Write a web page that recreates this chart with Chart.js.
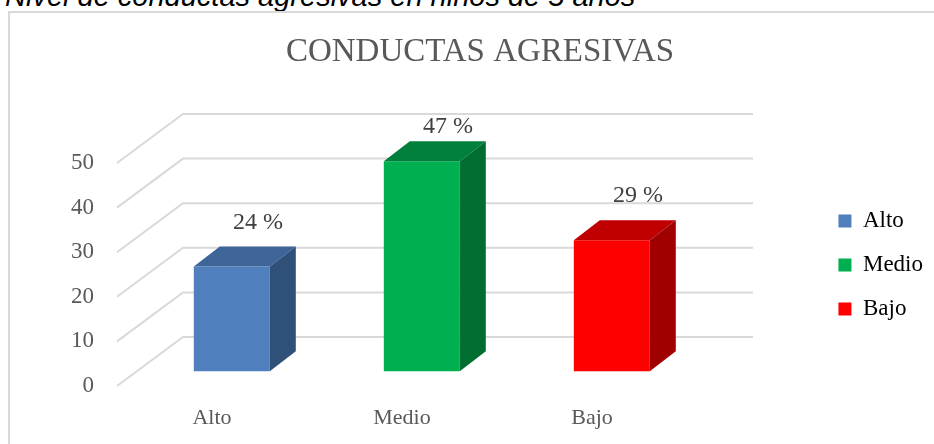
<!DOCTYPE html>
<html>
<head>
<meta charset="utf-8">
<script src="https://cdn.jsdelivr.net/npm/chart.js@4.4.0/dist/chart.umd.min.js"></script>
<style>
  body { margin: 0; background: #fff; overflow: hidden; }
  #wrap { position: relative; width: 934px; height: 444px; overflow: hidden; }
  #caption { position: absolute; left: 5px; top: -21px; font: italic 29px 'Liberation Sans', Arial, sans-serif; line-height: 34px; color: #000; white-space: nowrap; }
  #frame { position: absolute; left: 8px; top: 11px; width: 1000px; height: 500px; border-left: 2px solid #d9d9d9; border-top: 2px solid #d9d9d9; }
  canvas { position: absolute; left: 0; top: 0; }
</style>
</head>
<body>
<div id="wrap">
  <div id="caption">Nivel de conductas agresivas en niños de 5 años</div>
  <div id="frame"></div>
  <canvas id="chart" width="934" height="444"></canvas>
</div>
<script>
var categories = ['Alto', 'Medio', 'Bajo'];
var values = [23.5, 47.1, 29.4];
var yTicks = [0, 10, 20, 30, 40, 50];
var frontColors = ['#4f80bd', '#00b050', '#ff0000'];
var topColors = ['#3e6598', '#00803a', '#c00000'];
var sideColors = ['#2f5079', '#006e30', '#a00000'];

// 3d look
var FLOOR_DX = 66, FLOOR_DY = 49;
var SHIFT = 0.3;
var BAR_DX = 26, BAR_DY = 20;

// layout
var PAD_L = 27, PAD_R = 1;
var PLOT_LEFT = 117, PLOT_RIGHT = 687;
var SERIF = "'Liberation Serif', 'Times New Roman', serif";

var depthPlugin = {
	id: 'depth',
	beforeDatasetsDraw: function(chart) {
		var ctx = chart.ctx, area = chart.chartArea, y = chart.scales.y;
		ctx.save();
		ctx.strokeStyle = '#d9d9d9';
		ctx.lineWidth = 2;
		y.ticks.forEach(function(t) {
			var py = y.getPixelForValue(t.value);
			ctx.beginPath();
			ctx.moveTo(area.left, py);
			ctx.lineTo(area.left + FLOOR_DX, py - FLOOR_DY);
			ctx.lineTo(area.right + FLOOR_DX, py - FLOOR_DY);
			ctx.stroke();
		});
		ctx.restore();
	},
	beforeDatasetDraw: function(chart) {
		chart.ctx.save();
		chart.ctx.translate(FLOOR_DX * SHIFT, -FLOOR_DY * SHIFT);
	},
	afterDatasetDraw: function(chart, args) {
		var ctx = chart.ctx;
		args.meta.data.forEach(function(bar, i) {
			var p = bar.getProps(['x', 'y', 'base', 'width'], true);
			var l = p.x - p.width / 2, r = p.x + p.width / 2;
			ctx.fillStyle = topColors[i];
			ctx.beginPath();
			ctx.moveTo(l, p.y);
			ctx.lineTo(l + BAR_DX, p.y - BAR_DY);
			ctx.lineTo(r + BAR_DX, p.y - BAR_DY);
			ctx.lineTo(r, p.y);
			ctx.closePath();
			ctx.fill();
			ctx.fillStyle = sideColors[i];
			ctx.beginPath();
			ctx.moveTo(r, p.y);
			ctx.lineTo(r + BAR_DX, p.y - BAR_DY);
			ctx.lineTo(r + BAR_DX, p.base - BAR_DY);
			ctx.lineTo(r, p.base);
			ctx.closePath();
			ctx.fill();
		});
		ctx.restore();
	},
	afterDatasetsDraw: function(chart) {
		var ctx = chart.ctx;
		var meta = chart.getDatasetMeta(0);
		ctx.save();
		ctx.font = '24px ' + SERIF;
		ctx.fillStyle = '#404040';
		ctx.textAlign = 'center';
		ctx.textBaseline = 'middle';
		meta.data.forEach(function(bar, i) {
			var backTop = bar.y - FLOOR_DY * SHIFT - BAR_DY;
			var ty = Math.max(backTop - 24, chart.chartArea.top - 36);
			ctx.fillText(Math.round(values[i]) + ' %', bar.x + 46, ty);
		});
		ctx.restore();
	}
};

var ctx = document.getElementById('chart').getContext('2d');
var chart = new Chart(ctx, {
	type: 'bar',
	data: {
		labels: categories,
		datasets: [{
			label: 'Conductas agresivas',
			data: values,
			backgroundColor: frontColors,
			borderWidth: 0,
			barPercentage: 0.4,
			categoryPercentage: 1,
			clip: false
		}]
	},
	options: {
		responsive: false,
		animation: false,
		events: [],
		layout: { padding: { left: PAD_L, right: PAD_R, top: 0, bottom: -86 } },
		scales: {
			x: {
				type: 'category',
				offset: true,
				grid: { display: false, drawTicks: false },
				border: { display: false },
				ticks: { color: '#595959', font: { family: SERIF, size: 22 }, padding: 19 },
				afterFit: function(s) { s.height = 144; }
			},
			y: {
				position: 'left',
				min: 0,
				max: 50,
				grid: { display: false, drawTicks: false },
				border: { display: false },
				ticks: { stepSize: 10, color: '#595959', font: { family: SERIF, size: 23 }, padding: 23 },
				afterBuildTicks: function(s) { s.ticks = yTicks.map(function(v) { return { value: v }; }); },
				afterFit: function(s) { s.width = PLOT_LEFT - PAD_L; }
			},
			gap: {
				type: 'linear',
				position: 'right',
				grid: { display: false, drawTicks: false },
				border: { display: false },
				ticks: { display: false },
				afterFit: function(s) {
					var legendLeft = s.chart.width - PAD_R - s.chart.legend.width;
					s.width = legendLeft - PLOT_RIGHT;
				}
			}
		},
		plugins: {
			title: {
				display: true,
				text: 'CONDUCTAS AGRESIVAS',
				color: '#595959',
				font: { family: SERIF, size: 33, weight: 'normal' },
				padding: { top: 32.7, bottom: 90.7 }
			},
			legend: {
				position: 'right',
				labels: {
					boxWidth: 13,
					boxHeight: 13,
					padding: 21,
					color: '#595959',
					font: { family: SERIF, size: 23, lineHeight: 22 / 23 },
					generateLabels: function() {
						return categories.map(function(c, i) {
							return { text: c, fillStyle: frontColors[i], strokeStyle: frontColors[i], lineWidth: 0, hidden: false, index: i, datasetIndex: 0 };
						});
					}
				}
			},
			tooltip: { enabled: false }
		}
	},
	plugins: [depthPlugin]
});
</script>
</body>
</html>
